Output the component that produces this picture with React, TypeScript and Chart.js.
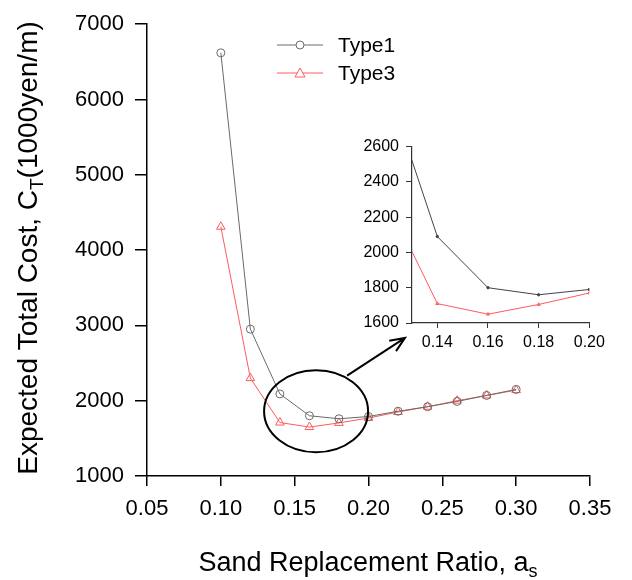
import React, { useEffect, useRef } from "react";
import { Chart, registerables } from "chart.js";

Chart.register(...registerables);

// ---- data ----
const ratios = [0.1, 0.12, 0.14, 0.16, 0.18, 0.2, 0.22, 0.24, 0.26, 0.28, 0.3];
const type1Cost = [6620, 2950, 2090, 1800, 1760, 1790, 1860, 1920, 1990, 2070, 2150];
const type3Cost = [4310, 2300, 1710, 1650, 1705, 1770, 1850, 1920, 2000, 2070, 2140];
const seriesLabels = ["Type1", "Type3"];
const mainXTicks = [0.05, 0.1, 0.15, 0.2, 0.25, 0.3, 0.35];
const mainYTicks = [1000, 2000, 3000, 4000, 5000, 6000, 7000];
const insetXTicks = [0.14, 0.16, 0.18, 0.2];
const insetYTicks = [1600, 1800, 2000, 2200, 2400, 2600];

const FONT = "'Liberation Sans', Arial, sans-serif";
const GRAY = "#6a6a6a";
const RED = "#ff5a5a";

const pts = (ys: number[]) => ratios.map((x, i) => ({ x, y: ys[i] }));

function drawSubText(
  ctx: CanvasRenderingContext2D,
  parts: { t: string; sub?: boolean }[],
  size: number,
  cx: number,
  cy: number,
  rotate: boolean
) {
  ctx.save();
  ctx.translate(cx, cy);
  if (rotate) ctx.rotate(-Math.PI / 2);
  ctx.fillStyle = "#000";
  ctx.textBaseline = "alphabetic";
  ctx.textAlign = "left";
  const subSize = Math.round(size * 0.68);
  let total = 0;
  const widths = parts.map((p) => {
    ctx.font = `${p.sub ? subSize : size}px ${FONT}`;
    const w = ctx.measureText(p.t).width;
    total += w;
    return w;
  });
  let x = -total / 2;
  const base = size * 0.36;
  parts.forEach((p, i) => {
    ctx.font = `${p.sub ? subSize : size}px ${FONT}`;
    ctx.fillText(p.t, x, p.sub ? base + size * 0.22 : base);
    x += widths[i];
  });
  ctx.restore();
}

const mainDecor = {
  id: "mainDecor",
  afterDraw(chart: any) {
    const ctx = chart.ctx as CanvasRenderingContext2D;
    const xs = chart.scales.x;
    const ys = chart.scales.y;
    // axis titles
    drawSubText(
      ctx,
      [{ t: "Sand Replacement Ratio, a" }, { t: "s", sub: true }],
      27,
      368,
      561,
      false
    );
    drawSubText(
      ctx,
      [{ t: "Expected Total Cost, C" }, { t: "T", sub: true }, { t: "(1000yen/m)" }],
      28,
      27,
      248,
      true
    );
    // legend
    ctx.save();
    const legend = [
      { label: seriesLabels[0], color: GRAY, style: "circle", y: 45 },
      { label: seriesLabels[1], color: RED, style: "triangle", y: 73 },
    ];
    legend.forEach((l) => {
      ctx.strokeStyle = l.color;
      ctx.lineWidth = 1;
      ctx.beginPath();
      ctx.moveTo(277, l.y);
      ctx.lineTo(323, l.y);
      ctx.stroke();
      ctx.beginPath();
      if (l.style === "circle") {
        ctx.fillStyle = "#fff";
        ctx.arc(300, l.y, 4, 0, Math.PI * 2);
        ctx.fill();
        ctx.stroke();
      } else {
        ctx.fillStyle = "#fff";
        ctx.moveTo(300, l.y - 5);
        ctx.lineTo(305, l.y + 4);
        ctx.lineTo(295, l.y + 4);
        ctx.closePath();
        ctx.fill();
        ctx.stroke();
      }
      ctx.fillStyle = "#000";
      ctx.font = `21px ${FONT}`;
      ctx.textBaseline = "middle";
      ctx.textAlign = "left";
      ctx.fillText(l.label, 338, l.y + 1);
    });
    // ellipse
    const ex = xs.getPixelForValue(0.1645);
    const ey = ys.getPixelForValue(1860);
    ctx.strokeStyle = "#000";
    ctx.lineWidth = 2;
    ctx.beginPath();
    ctx.ellipse(ex, ey, 52, 41, 0, 0, Math.PI * 2);
    ctx.stroke();
    // arrow
    const ax0 = xs.getPixelForValue(0.1855);
    const ay0 = ys.getPixelForValue(2332);
    const ax1 = xs.getPixelForValue(0.2247);
    const ay1 = ys.getPixelForValue(2834);
    ctx.beginPath();
    ctx.moveTo(ax0, ay0);
    ctx.lineTo(ax1, ay1);
    const ang = Math.atan2(ay1 - ay0, ax1 - ax0);
    const hl = 16;
    ctx.moveTo(ax1 - hl * Math.cos(ang - 0.4), ay1 - hl * Math.sin(ang - 0.4));
    ctx.lineTo(ax1, ay1);
    ctx.lineTo(ax1 - hl * Math.cos(ang + 0.4), ay1 - hl * Math.sin(ang + 0.4));
    ctx.stroke();
    ctx.restore();
  },
};

export default function App() {
  const mainRef = useRef<HTMLCanvasElement>(null);
  const insetRef = useRef<HTMLCanvasElement>(null);

  useEffect(() => {
    const axisCommon = {
      grid: { drawOnChartArea: false, color: "#000", lineWidth: 1.5 },
      border: { color: "#000", width: 1.5 },
    };
    const main = new Chart(mainRef.current!, {
      type: "line",
      data: {
        datasets: [
          {
            label: seriesLabels[0],
            data: pts(type1Cost),
            borderColor: GRAY,
            borderWidth: 1,
            pointStyle: "circle",
            pointRadius: 4,
            pointBorderColor: GRAY,
            pointBackgroundColor: "rgba(255,255,255,0)",
            pointBorderWidth: 1,
          },
          {
            label: seriesLabels[1],
            data: pts(type3Cost),
            borderColor: RED,
            borderWidth: 1,
            pointStyle: "triangle",
            pointRadius: 5,
            pointBorderColor: RED,
            pointBackgroundColor: "rgba(255,255,255,0)",
            pointBorderWidth: 1,
          },
        ],
      },
      options: {
        animation: false,
        responsive: false,
        layout: { padding: { top: 21, right: 42, left: 0, bottom: 0 } },
        plugins: { legend: { display: false }, tooltip: { enabled: false } },
        scales: {
          x: {
            type: "linear",
            min: 0.05,
            max: 0.35,
            afterBuildTicks: (s: any) => {
              s.ticks = mainXTicks.map((v) => ({ value: v }));
            },
            afterFit: (s: any) => {
              s.height = 104;
            },
            ticks: {
              callback: (v: any) => Number(v).toFixed(2),
              color: "#000",
              font: { family: FONT, size: 22 },
              padding: 10,
              maxRotation: 0,
            },
            grid: { ...axisCommon.grid, tickLength: 10 },
            border: axisCommon.border,
          },
          y: {
            type: "linear",
            min: 1000,
            max: 7000,
            afterBuildTicks: (s: any) => {
              s.ticks = mainYTicks.map((v) => ({ value: v }));
            },
            afterFit: (s: any) => {
              s.width = 147;
            },
            ticks: {
              callback: (v: any) => String(v),
              color: "#000",
              font: { family: FONT, size: 22 },
              padding: 11,
            },
            grid: { ...axisCommon.grid, tickLength: 12 },
            border: axisCommon.border,
          },
        },
      },
      plugins: [mainDecor],
    } as any);

    const inset = new Chart(insetRef.current!, {
      type: "line",
      data: {
        datasets: [
          {
            label: seriesLabels[0],
            data: pts(type1Cost),
            borderColor: "#444",
            borderWidth: 1,
            pointStyle: "circle",
            pointRadius: 1.2,
            pointBorderColor: "#444",
            pointBackgroundColor: "#444",
          },
          {
            label: seriesLabels[1],
            data: pts(type3Cost),
            borderColor: RED,
            borderWidth: 1,
            pointStyle: "triangle",
            pointRadius: 1.8,
            pointBorderColor: RED,
            pointBackgroundColor: "rgba(255,255,255,0)",
          },
        ],
      },
      options: {
        animation: false,
        responsive: false,
        layout: { padding: { top: 14, right: 20.7, left: 0, bottom: 0 } },
        plugins: { legend: { display: false }, tooltip: { enabled: false } },
        scales: {
          x: {
            type: "linear",
            min: 0.13,
            max: 0.2,
            afterBuildTicks: (s: any) => {
              s.ticks = insetXTicks.map((v) => ({ value: v }));
            },
            afterFit: (s: any) => {
              s.height = 37;
            },
            ticks: {
              callback: (v: any) => Number(v).toFixed(2),
              color: "#000",
              font: { family: FONT, size: 16 },
              padding: 5,
              maxRotation: 0,
            },
            grid: { drawOnChartArea: false, color: "#333", lineWidth: 1, tickLength: 5 },
            border: { color: "#333", width: 1.2 },
          },
          y: {
            type: "linear",
            min: 1600,
            max: 2600,
            afterBuildTicks: (s: any) => {
              s.ticks = insetYTicks.map((v) => ({ value: v }));
            },
            afterFit: (s: any) => {
              s.width = 72;
            },
            ticks: {
              callback: (v: any) => String(v),
              color: "#000",
              font: { family: FONT, size: 16 },
              padding: 7,
            },
            grid: { drawOnChartArea: false, color: "#333", lineWidth: 1, tickLength: 6 },
            border: { color: "#333", width: 1.2 },
          },
        },
      },
    } as any);

    return () => {
      main.destroy();
      inset.destroy();
    };
  }, []);

  return (
    <div style={{ position: "absolute", left: 0, top: 0, width: 632, height: 580, background: "#fff" }}>
      <canvas
        ref={mainRef}
        width={632}
        height={580}
        style={{ position: "absolute", left: 0, top: 0, width: 632, height: 580 }}
      />
      <canvas
        ref={insetRef}
        width={270}
        height={230}
        style={{ position: "absolute", left: 340, top: 130, width: 270, height: 230 }}
      />
    </div>
  );
}
